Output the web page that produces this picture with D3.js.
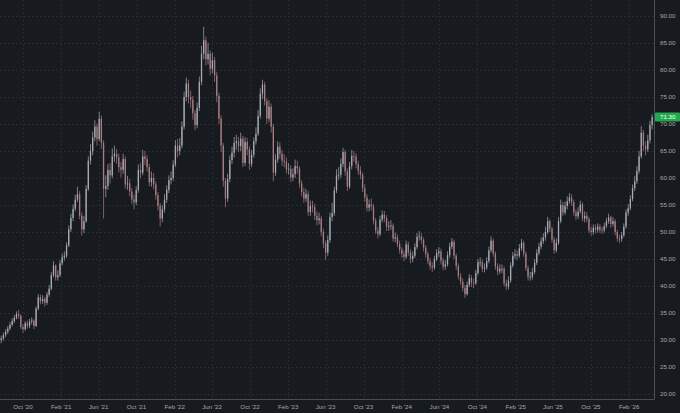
<!DOCTYPE html>
<html lang="en">
<head>
    <meta charset="UTF-8">
    <title>Price chart</title>
    <script src="https://d3js.org/d3.v7.min.js"></script>
    <style>
        html, body {
            margin: 0;
            padding: 0;
            background: #171a1f;
            overflow: hidden;
        }
        text {
            font-family: "Liberation Sans", Arial, sans-serif;
            font-size: 6.2px;
            fill: #a3a6ad;
        }
    </style>
</head>
<body>
    <div id="chart"></div>
    <script>
        // weekly bars, Monday of each week
        const weeks = d3.timeMonday.range(new Date(2020, 6, 20), new Date(2026, 3, 14));

        const closes = [
            30.3, 30.9, 31.5, 32.1, 32.8, 33.5, 34.1, 34.8, 34.5, 32.4,
            32.0, 33.1, 32.6, 33.4, 33.6, 32.6, 35.8, 37.9, 37.2, 37.6,
            36.9, 38.4, 39.5, 42.0, 43.8, 41.6, 42.0, 44.2, 45.3, 45.6,
            47.5, 50.5, 52.6, 54.3, 56.0, 57.0, 53.0, 50.5, 52.0, 58.0,
            63.2, 65.0, 67.5, 69.5, 67.2, 71.0, 66.5, 58.0, 58.5, 61.5,
            60.5, 64.0, 64.5, 63.8, 62.0, 61.5, 63.5, 58.8, 59.0, 57.5,
            56.0, 55.5, 57.8, 61.5, 61.0, 64.0, 63.5, 62.0, 59.2, 60.0,
            58.8, 56.8, 54.8, 52.5, 54.2, 56.0, 57.8, 59.6, 60.0, 62.5,
            66.0, 65.0, 66.0, 69.5, 75.0, 77.5, 75.0, 74.5, 72.0, 69.8,
            73.0, 77.8, 83.0, 85.5, 82.0, 83.0, 80.2, 81.8, 79.0, 75.2,
            71.0, 66.0, 59.5, 56.2, 59.8, 63.3, 64.7, 66.5, 66.8, 65.9,
            67.3, 62.8, 66.7, 65.3, 62.6, 64.3, 66.8, 68.2, 71.5, 75.6,
            77.3, 74.2, 71.0, 73.2, 69.5, 61.0, 63.4, 65.8, 64.5, 63.2,
            63.0, 61.6, 61.7, 60.1, 60.7, 62.2, 61.8, 59.0, 57.4, 56.2,
            57.0, 53.7, 54.8, 54.6, 53.0, 52.2, 52.5, 50.0, 47.9, 46.2,
            48.5, 52.8, 53.5, 57.7, 60.5, 60.6, 62.6, 64.8, 61.2, 58.4,
            62.2, 64.1, 64.0, 62.6, 61.4, 60.6, 58.1, 56.4, 54.5, 55.1,
            54.8, 52.1, 50.2, 49.6, 52.3, 53.2, 52.6, 51.0, 51.1, 51.2,
            48.8, 49.0, 47.8, 46.7, 45.9, 45.4, 47.7, 46.2, 45.0, 45.6,
            47.2, 49.1, 49.2, 48.5, 47.1, 45.9, 44.6, 43.7, 43.4, 45.0,
            46.1, 46.4, 44.7, 43.6, 44.0, 45.7, 47.3, 48.2, 45.6, 43.7,
            41.8, 40.8, 39.6, 38.5, 40.2, 41.5, 40.6, 40.5, 42.4, 44.4,
            44.4, 43.2, 43.4, 44.6, 46.6, 48.4, 46.0, 43.6, 42.7, 43.2,
            43.2, 40.5, 39.9, 41.0, 43.8, 45.6, 45.9, 45.6, 47.0, 48.0,
            46.0, 43.3, 41.7, 41.7, 42.6, 44.3, 46.1, 47.3, 48.3, 49.0,
            50.0, 52.0, 50.6, 48.6, 46.6, 48.0, 52.0, 55.0, 53.6, 54.8,
            55.7, 56.4, 55.5, 53.6, 52.9, 53.8, 55.1, 52.5, 53.0, 52.4,
            50.3, 50.0, 50.8, 50.4, 51.0, 50.4, 50.3, 51.1, 52.0, 52.7,
            51.5, 52.0, 50.0, 48.8, 48.7, 49.4, 51.0, 53.6, 54.4, 56.1,
            58.1, 59.4, 61.3, 64.0, 68.4, 66.0, 65.3, 67.0, 69.8, 71.3
        ];

        const highs = [
            30.8, 31.4, 32.0, 32.6, 33.3, 34.0, 34.6, 35.3, 35.6, 34.7,
            32.9, 33.5, 33.6, 33.9, 34.2, 33.9, 36.2, 38.5, 38.4, 38.3,
            38.0, 38.9, 40.2, 42.6, 44.6, 44.0, 42.9, 44.8, 46.0, 46.4,
            48.1, 51.2, 53.4, 55.1, 56.9, 58.4, 57.6, 53.6, 53.0, 58.7,
            64.0, 66.3, 68.6, 70.7, 70.1, 72.3, 71.6, 67.0, 60.5, 62.6,
            62.8, 65.5, 66.0, 65.4, 64.5, 63.0, 64.5, 64.0, 60.4, 59.8,
            58.2, 56.9, 58.5, 62.5, 62.8, 65.2, 65.0, 64.2, 62.6, 61.2,
            60.9, 59.4, 57.4, 55.4, 55.0, 57.0, 58.6, 60.5, 61.2, 63.3,
            67.0, 67.2, 67.4, 70.5, 76.0, 78.6, 78.2, 76.2, 75.2, 72.6,
            74.0, 78.8, 84.5, 88.0, 86.2, 85.0, 83.6, 83.2, 82.4, 79.6,
            75.8, 71.6, 66.5, 60.0, 60.8, 64.2, 65.8, 67.6, 68.0, 67.6,
            68.4, 67.8, 67.6, 67.4, 65.9, 65.2, 67.5, 69.4, 72.6, 76.6,
            78.2, 77.8, 74.8, 74.4, 73.8, 70.0, 64.4, 66.8, 66.6, 65.2,
            64.4, 63.8, 62.8, 62.4, 61.8, 63.4, 63.2, 62.2, 59.6, 58.2,
            58.0, 57.6, 55.8, 55.8, 55.2, 53.8, 53.6, 53.0, 50.6, 48.4,
            49.4, 53.6, 55.4, 58.4, 61.6, 62.0, 63.6, 65.6, 65.2, 61.8,
            63.0, 65.2, 65.0, 64.6, 63.2, 62.2, 61.0, 58.8, 57.0, 56.0,
            56.2, 55.2, 52.6, 50.9, 53.0, 54.0, 53.9, 53.1, 52.0, 52.2,
            51.6, 49.9, 49.6, 48.4, 47.2, 46.6, 48.4, 48.2, 46.8, 46.4,
            47.9, 49.8, 50.2, 49.8, 49.0, 47.6, 46.4, 45.2, 44.4, 45.6,
            46.8, 47.2, 46.9, 45.2, 44.8, 46.4, 48.0, 48.9, 48.6, 46.0,
            44.2, 42.4, 41.4, 40.2, 40.8, 42.2, 42.0, 41.4, 43.0, 45.0,
            45.3, 44.9, 44.2, 45.3, 47.3, 49.2, 48.8, 46.4, 44.2, 44.0,
            44.0, 43.6, 41.2, 41.8, 44.4, 46.3, 46.8, 46.6, 47.8, 48.7,
            48.4, 46.4, 43.8, 42.6, 43.4, 45.0, 46.8, 48.0, 49.0, 49.8,
            51.0, 52.8, 52.4, 51.0, 49.0, 48.8, 52.8, 56.0, 55.6, 55.6,
            56.6, 57.2, 57.0, 56.0, 54.2, 54.6, 55.8, 55.5, 53.8, 53.7,
            52.8, 51.0, 51.4, 51.4, 51.6, 51.5, 51.0, 51.7, 52.6, 53.4,
            53.0, 52.8, 52.4, 50.4, 49.5, 50.0, 51.6, 54.2, 55.2, 56.8,
            58.8, 60.4, 62.2, 65.0, 69.6, 68.9, 66.8, 68.0, 70.6, 71.8
        ];

        const lows = [
            29.4, 29.9, 30.5, 31.1, 31.8, 32.5, 33.1, 33.8, 33.9, 32.0,
            31.3, 31.7, 32.1, 32.2, 32.9, 32.0, 32.4, 35.5, 36.6, 36.7,
            36.2, 36.5, 38.0, 39.2, 41.6, 41.0, 41.0, 41.7, 43.8, 44.7,
            45.2, 47.2, 50.0, 52.0, 53.8, 55.5, 52.4, 49.3, 49.8, 51.7,
            57.6, 62.5, 64.2, 66.8, 66.0, 66.8, 65.4, 52.5, 56.4, 57.8,
            59.0, 60.0, 63.0, 62.6, 61.0, 60.1, 60.8, 58.0, 57.8, 56.6,
            55.2, 54.2, 55.0, 57.3, 60.0, 60.5, 62.4, 61.2, 58.5, 58.4,
            57.9, 56.0, 54.0, 51.0, 51.8, 53.6, 55.4, 57.2, 58.8, 59.5,
            62.0, 63.8, 64.2, 65.5, 69.0, 74.2, 73.8, 73.0, 70.8, 68.8,
            69.2, 72.4, 77.2, 82.0, 80.8, 81.0, 79.0, 79.4, 77.8, 74.0,
            70.0, 64.8, 58.4, 54.6, 55.6, 59.2, 62.6, 63.8, 65.2, 64.8,
            65.0, 62.0, 62.2, 64.2, 61.5, 62.0, 63.8, 66.2, 67.8, 71.0,
            74.6, 73.4, 70.0, 70.4, 68.4, 59.4, 60.4, 62.8, 63.6, 62.2,
            62.0, 60.8, 60.6, 59.2, 59.4, 60.0, 60.8, 58.2, 56.6, 55.4,
            55.6, 53.0, 53.0, 53.6, 52.2, 51.2, 51.4, 49.2, 47.0, 44.8,
            45.6, 48.0, 52.0, 53.0, 57.2, 59.6, 60.0, 62.0, 60.4, 57.6,
            58.0, 61.6, 63.0, 61.8, 60.6, 59.8, 57.4, 55.6, 53.8, 53.8,
            54.0, 51.4, 49.6, 48.8, 49.2, 51.8, 51.8, 50.2, 50.2, 50.4,
            48.2, 48.1, 47.2, 46.0, 45.2, 44.6, 45.0, 45.6, 44.2, 44.4,
            45.2, 46.8, 48.4, 47.8, 46.4, 45.2, 44.0, 43.0, 42.6, 43.0,
            44.6, 45.4, 44.0, 42.9, 43.0, 43.6, 45.2, 46.8, 45.0, 43.0,
            41.2, 40.2, 39.0, 37.8, 38.2, 39.8, 39.8, 39.6, 40.2, 42.0,
            43.6, 42.6, 42.5, 43.0, 44.2, 46.2, 45.4, 43.0, 42.0, 42.2,
            42.4, 40.0, 39.2, 39.4, 40.6, 43.4, 45.0, 44.8, 45.2, 46.5,
            45.4, 42.8, 41.0, 41.0, 41.2, 42.2, 43.9, 45.7, 46.8, 47.8,
            48.4, 49.6, 50.0, 48.0, 46.0, 46.2, 47.6, 51.6, 53.0, 53.2,
            54.2, 55.2, 54.8, 53.0, 52.2, 52.4, 53.4, 52.0, 51.8, 51.8,
            49.8, 49.3, 49.5, 49.8, 49.9, 49.8, 49.6, 49.9, 50.7, 51.5,
            50.8, 51.0, 49.4, 48.2, 48.0, 48.2, 49.0, 50.6, 53.0, 54.0,
            55.7, 57.6, 58.9, 60.8, 63.6, 65.0, 64.2, 64.8, 66.4, 69.0
        ];

        const firstOpen = 30.0;
        const lastPrice = 71.30;
        const priceTicks = [20, 25, 30, 35, 40, 45, 50, 55, 60, 65, 70, 75, 80, 85, 90];
        const dateTicks = [
            new Date(2020, 9, 1), new Date(2021, 1, 1), new Date(2021, 5, 1), new Date(2021, 9, 1),
            new Date(2022, 1, 1), new Date(2022, 5, 1), new Date(2022, 9, 1), new Date(2023, 1, 1),
            new Date(2023, 5, 1), new Date(2023, 9, 1), new Date(2024, 1, 1), new Date(2024, 5, 1),
            new Date(2024, 9, 1), new Date(2025, 1, 1), new Date(2025, 5, 1), new Date(2025, 9, 1),
            new Date(2026, 1, 1)
        ];

        const bars = weeks.map((d, i) => {
            const open = i === 0 ? firstOpen : closes[i - 1];
            const close = closes[i];
            return {
                date: d,
                open: open,
                close: close,
                high: Math.max(highs[i], open, close),
                low: Math.min(lows[i], open, close)
            };
        });

        const width = 680;
        const height = 413;
        const plotRight = 654;
        const plotBottom = 399;

        const x = d3.scaleTime()
            .domain([new Date(2020, 6, 19), new Date(2026, 3, 22)])
            .range([0, plotRight]);

        const y = d3.scaleLinear()
            .domain([20, 90])
            .range([394, 16]);

        const svg = d3.select("#chart")
            .append("svg")
            .attr("width", width)
            .attr("height", height);

        svg.append("rect")
            .attr("width", width)
            .attr("height", height)
            .attr("fill", "#171a1f");

        // grid
        svg.append("g")
            .selectAll("line")
            .data(priceTicks)
            .enter()
            .append("line")
            .attr("x1", 0)
            .attr("x2", plotRight)
            .attr("y1", d => Math.round(y(d)) + 0.5)
            .attr("y2", d => Math.round(y(d)) + 0.5)
            .attr("stroke", "#2c3038")
            .attr("stroke-width", 1)
            .attr("stroke-dasharray", "1.5,2.5");

        svg.append("g")
            .selectAll("line")
            .data(dateTicks)
            .enter()
            .append("line")
            .attr("x1", d => Math.round(x(d)) + 0.5)
            .attr("x2", d => Math.round(x(d)) + 0.5)
            .attr("y1", 0)
            .attr("y2", plotBottom)
            .attr("stroke", "#2a2e36")
            .attr("stroke-width", 1)
            .attr("stroke-dasharray", "1.5,2.5");

        // candles
        const upColor = "#a8acb3";
        const downColor = "#a87e83";
        const bodyW = 1.3;

        const candle = svg.append("g")
            .selectAll("g")
            .data(bars)
            .enter()
            .append("g")
            .attr("transform", d => `translate(${x(d3.timeDay.offset(d.date, 3))},0)`);

        candle.append("line")
            .attr("y1", d => y(d.high))
            .attr("y2", d => y(d.low))
            .attr("stroke", d => d.close >= d.open ? upColor : downColor)
            .attr("stroke-width", 0.7);

        candle.append("rect")
            .attr("x", -bodyW / 2)
            .attr("width", bodyW)
            .attr("y", d => y(Math.max(d.open, d.close)))
            .attr("height", d => Math.max(0.8, Math.abs(y(d.open) - y(d.close))))
            .attr("fill", d => d.close >= d.open ? upColor : downColor);

        // frame
        svg.append("line")
            .attr("x1", plotRight + 0.5).attr("x2", plotRight + 0.5)
            .attr("y1", 0).attr("y2", plotBottom)
            .attr("stroke", "#4a4e57");
        svg.append("line")
            .attr("x1", 0).attr("x2", plotRight + 0.5)
            .attr("y1", plotBottom + 0.5).attr("y2", plotBottom + 0.5)
            .attr("stroke", "#4a4e57");

        // axes labels
        svg.append("g")
            .selectAll("text")
            .data(priceTicks)
            .enter()
            .append("text")
            .attr("x", 660)
            .attr("y", d => y(d))
            .attr("dy", "0.35em")
            .text(d => d3.format(".2f")(d));

        const fmt = d3.timeFormat("%b '%y");
        svg.append("g")
            .selectAll("text")
            .data(dateTicks)
            .enter()
            .append("text")
            .attr("x", d => x(d))
            .attr("y", 409)
            .attr("text-anchor", "middle")
            .text(d => fmt(d));

        // last price tag
        svg.append("rect")
            .attr("x", plotRight + 1)
            .attr("y", y(lastPrice) - 4.5)
            .attr("width", 25)
            .attr("height", 9)
            .attr("rx", 1)
            .attr("fill", "#23a94f");
        svg.append("text")
            .attr("x", 660)
            .attr("y", y(lastPrice))
            .attr("dy", "0.35em")
            .style("fill", "#ffffff")
            .text(d3.format(".2f")(lastPrice));
    </script>
</body>
</html>
